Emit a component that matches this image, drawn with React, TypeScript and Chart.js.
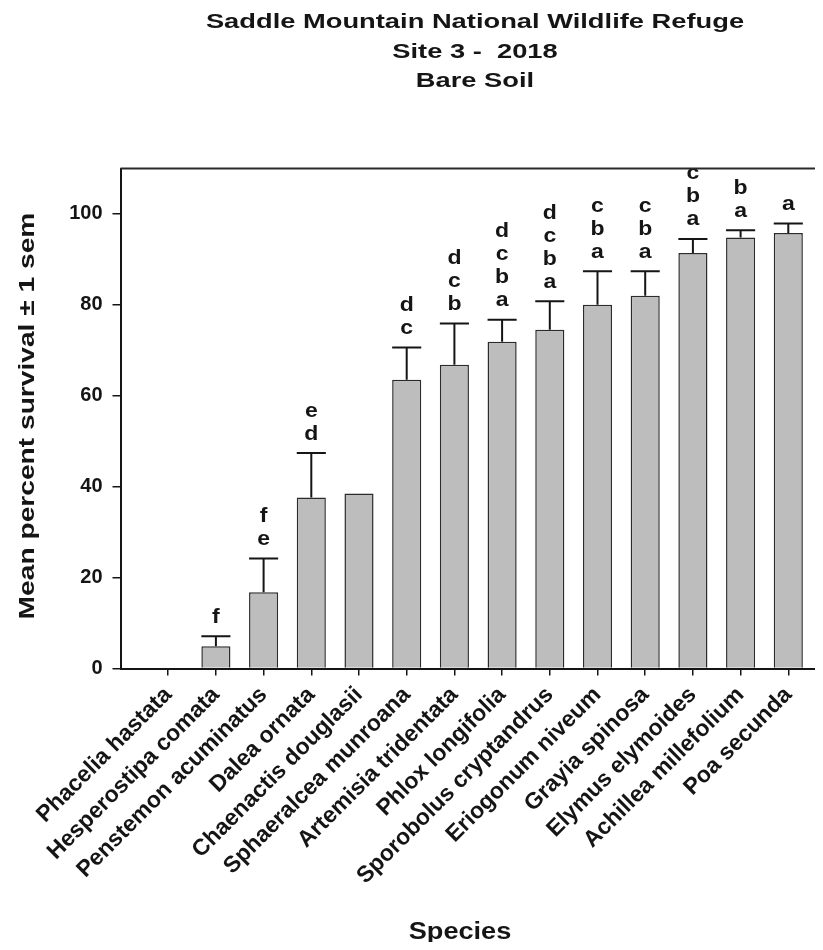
import React, { useEffect, useRef } from "react";
import { Chart, registerables } from "chart.js";

Chart.register(...registerables);

const titleLines = ["Saddle Mountain National Wildlife Refuge", "Site 3 -  2018", "Bare Soil"];
const yAxisTitle = "Mean percent survival \u00b1 1 sem";
const xAxisTitle = "Species";

const species = [
  "Phacelia hastata",
  "Hesperostipa comata",
  "Penstemon acuminatus",
  "Dalea ornata",
  "Chaenactis douglasii",
  "Sphaeralcea munroana",
  "Artemisia tridentata",
  "Phlox longifolia",
  "Sporobolus cryptandrus",
  "Eriogonum niveum",
  "Grayia spinosa",
  "Elymus elymoides",
  "Achillea millefolium",
  "Poa secunda",
];

const meanSurvival = [0, 4.9, 16.8, 37.6, 38.5, 63.5, 66.8, 71.9, 74.5, 80.0, 82.0, 91.4, 94.8, 95.8];
const semSurvival = [0, 2.2, 7.4, 9.8, 0, 7.1, 9.1, 4.8, 6.3, 7.4, 5.4, 3.1, 1.6, 2.1];
// significance letters, listed top to bottom
const groupLetters = ["", "f", "fe", "ed", "", "dc", "dcb", "dcba", "dcba", "cba", "cba", "cba", "ba", "a"];
const yTickValues = [0, 20, 40, 60, 80, 100];

const FONT = "'Liberation Sans', Arial, Helvetica, sans-serif";
const INK = "#151515";

function drawStretched(
  ctx: CanvasRenderingContext2D,
  text: string,
  x: number,
  y: number,
  size: number,
  stretch: number,
  rotation: number,
  baseline: CanvasTextBaseline
) {
  ctx.save();
  ctx.translate(x, y);
  ctx.rotate(rotation);
  ctx.scale(stretch, 1);
  ctx.font = `bold ${size}px ${FONT}`;
  ctx.fillStyle = INK;
  ctx.textAlign = "center";
  ctx.textBaseline = baseline;
  ctx.fillText(text, 0, 0);
  ctx.restore();
}

const annotatePlugin = {
  id: "annotate",
  afterDatasetsDraw(chart: any) {
    const ctx: CanvasRenderingContext2D = chart.ctx;
    const meta = chart.getDatasetMeta(0);
    const yScale = chart.scales.y;
    ctx.save();
    meta.data.forEach((bar: any, i: number) => {
      const m = meanSurvival[i];
      const s = semSurvival[i];
      const x = bar.x;
      const half = bar.width / 2;
      const yBar = yScale.getPixelForValue(m);
      const yCap = yScale.getPixelForValue(m + s);
      if (s > 0) {
        ctx.strokeStyle = INK;
        ctx.lineWidth = 2;
        ctx.beginPath();
        ctx.moveTo(x, yBar);
        ctx.lineTo(x, yCap);
        ctx.moveTo(x - half, yCap);
        ctx.lineTo(x + half, yCap);
        ctx.stroke();
      }
      const letters = groupLetters[i].split("");
      const n = letters.length;
      letters.forEach((ch, k) => {
        const yy = yCap - 19 - (n - 1 - k) * 23;
        drawStretched(ctx, ch, x, yy, 20, 1.15, 0, "middle");
      });
    });
    ctx.restore();
  },
  afterDraw(chart: any) {
    const ctx: CanvasRenderingContext2D = chart.ctx;
    const area = chart.chartArea;
    ctx.save();
    // top / right frame of the plot box
    ctx.strokeStyle = "#2a2a2a";
    ctx.lineWidth = 2;
    ctx.beginPath();
    ctx.moveTo(area.left, area.top);
    ctx.lineTo(area.right, area.top);
    ctx.lineTo(area.right, area.bottom);
    ctx.stroke();
    // titles
    const baselines = [20, 50, 79];
    titleLines.forEach((line, i) => {
      drawStretched(ctx, line, 467, baselines[i], 21, 1.3, 0, "alphabetic");
    });
    drawStretched(ctx, yAxisTitle, 19.5, 408, 22, 1.28, -Math.PI / 2, "middle");
    drawStretched(ctx, xAxisTitle, 452, 931, 23, 1.18, 0, "alphabetic");
    ctx.restore();
  },
};

export default function App() {
  const canvasRef = useRef<HTMLCanvasElement | null>(null);

  useEffect(() => {
    const canvas = canvasRef.current;
    if (!canvas) return;
    const chart = new Chart(canvas, {
      type: "bar",
      data: {
        datasets: [
          {
            data: species.map((_, i) => ({ x: i, y: meanSurvival[i] })),
            backgroundColor: "#bdbdbd",
            borderColor: "#2b2b2b",
            borderWidth: 1.5,
            barPercentage: 0.61,
            categoryPercentage: 1,
          },
        ],
      },
      options: {
        responsive: false,
        animation: false,
        layout: { padding: { top: 160.5, left: 50, right: 12, bottom: 0 } },
        plugins: {
          legend: { display: false },
          tooltip: { enabled: false },
          title: { display: false },
        },
        scales: {
          x: {
            type: "linear",
            min: -1,
            max: 14,
            offset: false,
            afterBuildTicks: (scale: any) => {
              scale.ticks = species.map((_, i) => ({ value: i }));
            },
            afterFit: (scale: any) => {
              scale.height = 281.5;
            },
            ticks: {
              autoSkip: false,
              minRotation: 45,
              maxRotation: 45,
              padding: 6,
              color: INK,
              font: { family: FONT, size: 23, weight: "bold" },
              callback: (value: any) => species[Number(value)] ?? "",
            },
            grid: {
              offset: false,
              drawOnChartArea: false,
              drawTicks: true,
              tickLength: 7,
              color: INK,
              lineWidth: 1.5,
            },
            border: { display: true, color: INK, width: 2 },
          },
          y: {
            min: 0,
            max: 110,
            afterBuildTicks: (scale: any) => {
              scale.ticks = yTickValues.map((v) => ({ value: v }));
            },
            afterFit: (scale: any) => {
              scale.width = 62.5;
            },
            ticks: {
              padding: 10,
              color: INK,
              font: { family: FONT, size: 20, weight: "bold" },
            },
            grid: { drawOnChartArea: false, drawTicks: true, tickLength: 8, color: INK, lineWidth: 1.5 },
            border: { display: true, color: INK, width: 2 },
          },
        },
      },
      plugins: [annotatePlugin],
    } as any);
    return () => chart.destroy();
  }, []);

  return (
    <div style={{ width: 815, height: 942, overflow: "hidden", marginBottom: -8 }}>
      <canvas ref={canvasRef} width={840} height={942} style={{ display: "block" }} />
    </div>
  );
}
